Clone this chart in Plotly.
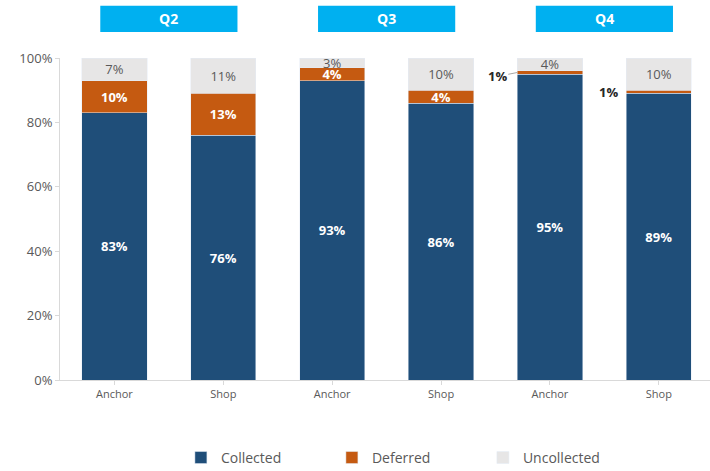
import plotly.graph_objects as go

# Rent collection by tenant type and quarter
tick_labels = ["Anchor", "Shop", "Anchor", "Shop", "Anchor", "Shop"]
quarters = ["Q2", "Q3", "Q4"]
collected = [83, 76, 93, 86, 95, 89]
deferred = [10, 13, 4, 4, 1, 1]
uncollected = [7, 11, 3, 10, 4, 10]
y_ticks = [0, 20, 40, 60, 80, 100]

C_COLLECTED = "#1F4E79"
C_DEFERRED = "#C55A11"
C_UNCOLLECTED = "#E7E6E6"
C_HEADER = "#00B0F0"
GREY_TXT = "#595959"
FONT = "Open Sans"

xs = list(range(len(tick_labels)))
BAR_W = 0.6

fig = go.Figure()

fig.add_trace(go.Bar(
    name="Collected", x=xs, y=collected, marker_color=C_COLLECTED, width=BAR_W,
    text=[f"{v}%" for v in collected], textposition="inside", insidetextanchor="middle",
    textfont=dict(color="white", size=14, family=FONT, weight="bold"),
    hoverinfo="skip",
))

# Thin deferred slices in Q4 are labelled outside the bar
def_text = [f"{v}%" if v >= 3 else "" for v in deferred]
fig.add_trace(go.Bar(
    name="Deferred", x=xs, y=deferred, marker_color=C_DEFERRED, width=BAR_W,
    text=def_text, textposition="inside", insidetextanchor="middle",
    textfont=dict(color="white", size=14, family=FONT, weight="bold"),
    constraintext="none", hoverinfo="skip",
))

fig.add_trace(go.Bar(
    name="Uncollected", x=xs, y=uncollected, marker_color=C_UNCOLLECTED, width=BAR_W,
    text=[f"{v}%" for v in uncollected], textposition="inside", insidetextanchor="middle",
    textfont=dict(color=GREY_TXT, size=13, family=FONT),
    constraintext="none", hoverinfo="skip",
))

annotations = []
shapes = []

for i, v in enumerate(deferred):
    if v >= 3:
        continue
    ymid = collected[i] + v / 2
    if i == 4:
        annotations.append(dict(
            x=i - BAR_W / 2, y=ymid, xref="x", yref="y", text=f"{v}%",
            showarrow=True, arrowhead=0, arrowwidth=1, arrowcolor="#A6A6A6",
            ax=-20, ay=4, standoff=0,
            font=dict(size=13, color="#262626", family=FONT, weight="bold"),
        ))
    else:
        annotations.append(dict(
            x=i - BAR_W / 2, y=ymid, xref="x", yref="y", text=f"{v}%",
            showarrow=False, xshift=-18, yshift=0,
            font=dict(size=13, color="#262626", family=FONT, weight="bold"),
        ))

# Quarter header boxes spanning each Anchor/Shop pair
for q, label in enumerate(quarters):
    cx = 2 * q + 0.5
    shapes.append(dict(
        type="rect", xref="x", yref="paper",
        x0=cx - 0.63, x1=cx + 0.63, y0=1.081, y1=1.162,
        fillcolor=C_HEADER, line=dict(width=0), layer="above",
    ))
    annotations.append(dict(
        x=cx, y=1.1215, xref="x", yref="paper", text=label, showarrow=False,
        font=dict(size=14, color="white", family=FONT, weight="bold"),
        yanchor="middle",
    ))

fig.update_layout(
    barmode="stack",
    width=710, height=471,
    margin=dict(l=60, r=0, t=58, b=91, autoexpand=False),
    paper_bgcolor="white", plot_bgcolor="white",
    font=dict(family=FONT, color=GREY_TXT),
    uniformtext=dict(minsize=8, mode="show"),
    showlegend=True,
    legend=dict(
        orientation="h", x=0.186, xanchor="left", y=-0.242, yanchor="middle",
        font=dict(size=14, color=GREY_TXT, family=FONT),
        entrywidth=106, entrywidthmode="pixels",
        traceorder="normal",
    ),
    annotations=annotations,
    shapes=shapes,
)

fig.update_xaxes(
    tickmode="array", tickvals=xs, ticktext=tick_labels,
    range=[-0.5, 5.47], showline=True, linecolor="#D9D9D9", linewidth=1,
    ticks="outside", tickson="boundaries", ticklen=4, tickcolor="#D9D9D9",
    tickfont=dict(size=11, color=GREY_TXT, family=FONT), showgrid=False,
    fixedrange=True,
)
fig.update_yaxes(
    range=[0, 100], tickmode="array", tickvals=y_ticks,
    ticktext=[f"{t}%" for t in y_ticks],
    showline=True, linecolor="#D9D9D9", linewidth=1,
    ticks="outside", ticklen=4, tickcolor="#D9D9D9",
    tickfont=dict(size=13, color=GREY_TXT, family=FONT), showgrid=False,
    zeroline=False, fixedrange=True,
)

fig.write_html("out.html")
